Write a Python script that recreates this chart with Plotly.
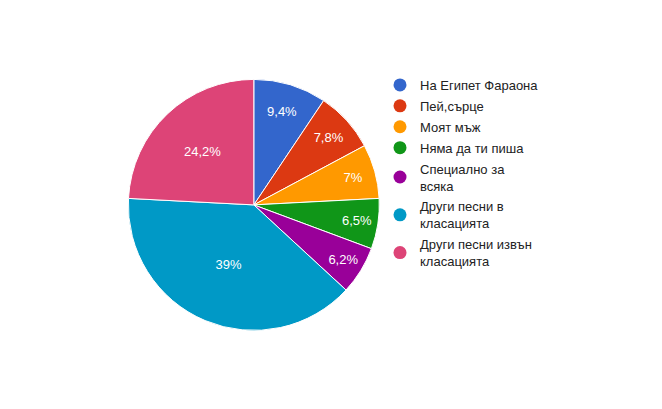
import plotly.graph_objects as go

labels = [
    "На Египет Фараона",
    "Пей,сърце",
    "Моят мъж",
    "Няма да ти пиша",
    "Специално за<br>всяка",
    "Други песни в<br>класацията",
    "Други песни извън<br>класацията",
]
shares = [9.4, 7.8, 7.0, 6.5, 6.2, 39.0, 24.2]
colours = ["#3366cc", "#dc3912", "#ff9900", "#109618", "#990099", "#0099c6", "#dd4477"]

# percent labels with a decimal comma, as in the source
pct_text = [f"{v:g}%".replace(".", ",") for v in shares]

W, H = 662, 409
OFF = 8  # page body margin pushes the figure 8px right/down

fig = go.Figure()
fig.add_trace(go.Pie(
    labels=labels,
    values=shares,
    text=pct_text,
    textinfo="text",
    textposition="inside",
    insidetextorientation="horizontal",
    textfont=dict(color="white", size=13, family="Liberation Sans, Arial"),
    marker=dict(colors=colours, line=dict(color="white", width=1)),
    sort=False,
    direction="clockwise",
    rotation=0,
    showlegend=False,
    domain=dict(
        x=[(128.3 - OFF) / W, (379.3 - OFF) / W],
        y=[(H - 330.5 + OFF) / H, (H - 79.3 + OFF) / H],
    ),
    hoverinfo="label+percent",
))

# legend entries drawn with round markers, like the original
# (one group per entry so tracegroupgap can open the spacing a little)
for i, (name, col) in enumerate(zip(labels, colours)):
    fig.add_trace(go.Scatter(
        x=[None], y=[None], mode="markers", name=name,
        legendgroup=f"g{i}",
        marker=dict(symbol="circle", size=13, color=col),
        hoverinfo="skip",
    ))

fig.update_xaxes(visible=False)
fig.update_yaxes(visible=False)
fig.update_layout(
    width=W, height=H,
    margin=dict(l=0, r=0, t=0, b=0),
    paper_bgcolor="white",
    plot_bgcolor="white",
    font=dict(family="Liberation Sans, Arial", size=13, color="#222222"),
    legend=dict(
        x=(380 - OFF) / W, y=1 - (70 - OFF) / H,
        xanchor="left", yanchor="top",
        bgcolor="rgba(0,0,0,0)",
        font=dict(size=13, color="#222222"),
        itemwidth=30,
        traceorder="grouped",
        tracegroupgap=1,
    ),
)

fig.write_html("out.html")
